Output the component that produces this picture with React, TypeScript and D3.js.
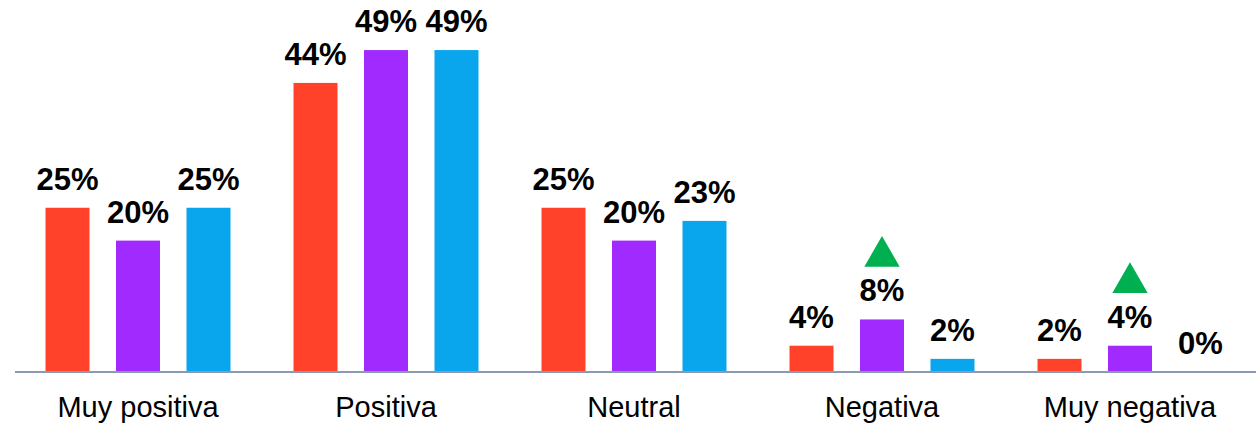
import React from 'react';
import * as d3 from 'd3';

const categories = ['Muy positiva', 'Positiva', 'Neutral', 'Negativa', 'Muy negativa'];
const seriesNames = ['s1', 's2', 's3'];
const s1 = [25, 44, 25, 4, 2];
const s2 = [20, 49, 20, 8, 4];
const s3 = [25, 49, 23, 2, 0];
const labels1 = ['25%', '44%', '25%', '4%', '2%'];
const labels2 = ['20%', '49%', '20%', '8%', '4%'];
const labels3 = ['25%', '49%', '23%', '2%', '0%'];
// up arrows shown over series 2
const arrowsUp = [false, false, false, true, true];

const colors = ['#FF4229', '#A12BFF', '#09A6EE'];

const W = 1256;
const H = 423;
const baseY = 372;

const App = () => {
  const x0 = d3.scaleBand().domain(categories).range([14, 1254]);
  const x1 = d3
    .scaleBand()
    .domain(seriesNames)
    .range([0, x0.bandwidth()])
    .paddingInner(0.376)
    .paddingOuter(0.447);
  const y = d3.scaleLinear().domain([0, 50]).range([baseY, baseY - 328.5]);

  const values = [s1, s2, s3];
  const labels = [labels1, labels2, labels3];

  const tri = d3.symbol().type(d3.symbolTriangle).size(540);

  return (
    <svg
      width={W}
      height={H}
      style={{ position: 'absolute', left: 0, top: 0, display: 'block', background: '#fff' }}
    >
      {categories.map((c, i) => (
        <g key={c} transform={`translate(${x0(c)},0)`}>
          {seriesNames.map((s, j) => {
            const v = values[j][i];
            const bx = x1(s) as number;
            const top = y(v);
            const cx = bx + x1.bandwidth() / 2;
            const lblY = top - 18;
            return (
              <g key={s}>
                {v > 0 && (
                  <rect x={bx} y={top} width={x1.bandwidth()} height={baseY - top} fill={colors[j]} />
                )}
                <text
                  x={cx}
                  y={lblY}
                  textAnchor='middle'
                  style={{ fontFamily: '"Liberation Sans", Arial, sans-serif', fontWeight: 'bold', fontSize: '31px' }}
                  fill='#000'
                >
                  {labels[j][i]}
                </text>
                {j === 1 && arrowsUp[i] && (
                  <path d={tri() as string} transform={`translate(${cx},${lblY - 45})`} fill='#00B050' />
                )}
              </g>
            );
          })}
          <text
            x={x0.bandwidth() / 2}
            y={417}
            textAnchor='middle'
            style={{ fontFamily: '"Liberation Sans", Arial, sans-serif', fontSize: '29px' }}
            fill='#000'
          >
            {c}
          </text>
        </g>
      ))}
      <line x1={15} x2={1256} y1={baseY} y2={baseY} stroke='#8A9AB5' strokeWidth={2} />
    </svg>
  );
};

export default App;
